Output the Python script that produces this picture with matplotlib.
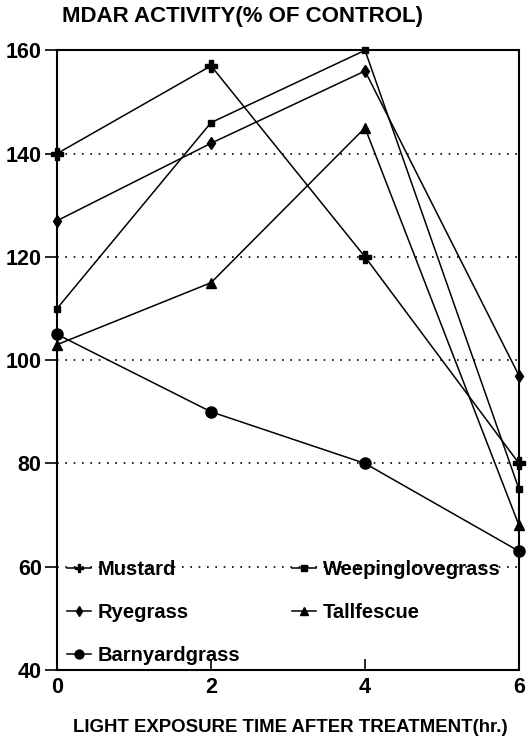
import numpy as np
import matplotlib.pyplot as plt

plt.rcParams['font.family'] = ['Liberation Sans', 'DejaVu Sans']

hours = [0, 2, 4, 6]
mustard = [140, 157, 120, 80]
ryegrass = [127, 142, 156, 97]
barnyard = [105, 90, 80, 63]
weeping = [110, 146, 160, 75]
tallfescue = [103, 115, 145, 68]

series = [
    ("Mustard", mustard, "P", 8),
    ("Ryegrass", ryegrass, "d", 6),
    ("Barnyardgrass", barnyard, "o", 8),
    ("Weepinglovegrass", weeping, "s", 5),
    ("Tallfescue", tallfescue, "^", 7),
]

fig = plt.figure(figsize=(5.28, 7.4), dpi=100)
ax = fig.add_axes([0.108, 0.0946, 0.875, 0.8374])

for y in [60, 80, 100, 120, 140]:
    ax.axhline(y, color="black", linestyle=(0, (1, 4)), linewidth=1.2, zorder=1)

for name, vals, mk, ms in series:
    ax.plot(hours, vals, color="black", linewidth=1.1, marker=mk, markersize=ms,
            label=name, clip_on=False, zorder=3)

ax.set_xlim(0, 6)
ax.set_ylim(40, 160)
ax.set_xticks(hours)
ax.set_yticks([40, 60, 80, 100, 120, 140, 160])
ax.tick_params(axis="y", direction="out", length=9, width=1.2, labelsize=15.5, pad=2)
ax.tick_params(axis="x", direction="in", length=8, width=1.2, labelsize=15.5, pad=5)
for lab in ax.get_xticklabels() + ax.get_yticklabels():
    lab.set_fontweight("bold")
for s in ax.spines.values():
    s.set_linewidth(1.5)

ax.legend(ncol=2, loc="lower left", frameon=False,
          handlelength=1.2, handletextpad=0.3, columnspacing=2.6,
          labelspacing=1.2, borderaxespad=0.1, bbox_to_anchor=(0.0, -0.008),
          markerscale=0.8, prop={"size": 14.5, "weight": "bold"})

fig.text(0.118, 0.978, "MDAR ACTIVITY(% OF CONTROL)", fontsize=16,
         fontweight="bold", ha="left", va="center")
fig.text(0.549, 0.017, "LIGHT EXPOSURE TIME AFTER TREATMENT(hr.)", fontsize=13.4,
         fontweight="bold", ha="center", va="center")

fig.savefig("out.png", dpi=100)
